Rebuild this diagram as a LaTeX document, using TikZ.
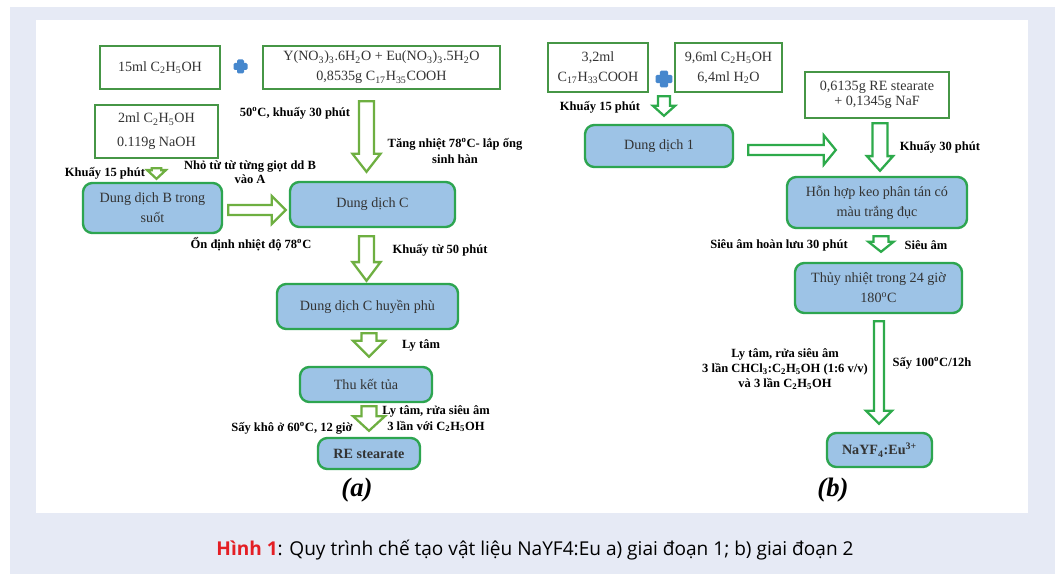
\documentclass[tikz,border=0pt]{standalone}
\usepackage{fontspec}
\setmainfont{Liberation Serif}
\newfontfamily\capfont{Open Sans}
\usetikzlibrary{calc}
\definecolor{boxgreen}{RGB}{70,150,70}
\definecolor{rndgreen}{RGB}{45,165,80}
\definecolor{boxblue}{RGB}{157,195,230}
\definecolor{arrgreenA}{RGB}{110,175,65}
\definecolor{arrgreenB}{RGB}{45,170,75}
\definecolor{plusblue}{RGB}{70,135,205}
\definecolor{pagebg}{RGB}{230,234,245}
\definecolor{capred}{RGB}{228,30,36}
\newcommand{\chsub}[1]{\textsubscript{#1}}
\newcommand{\chsup}[1]{\textsuperscript{#1}}

\begin{document}
\begin{tikzpicture}[
  x=0.75pt, y=-0.75pt,
  sz/.style 2 args={minimum width=#1*0.75pt, minimum height=#2*0.75pt},
  wbox/.style={draw=boxgreen, line width=1.8pt, fill=white, align=center,
    inner sep=1pt, text=black!80, font=\fontsize{10.6}{15}\selectfont},
  bbox/.style={wbox, draw=rndgreen, fill=boxblue, rounded corners=7pt},
  lbl/.style={font=\bfseries\fontsize{9.4}{11.5}\selectfont, align=center, inner sep=0pt},
  plusn/.style={inner sep=0pt, minimum size=#1, path picture={
    \fill[plusblue, rounded corners=1pt]
      ([yshift=-0.25*#1]path picture bounding box.west) rectangle
      ([yshift=0.25*#1]path picture bounding box.east);
    \fill[plusblue, rounded corners=1pt]
      ([xshift=-0.25*#1]path picture bounding box.south) rectangle
      ([xshift=0.25*#1]path picture bounding box.north);}},
  darr/.style n args={3}{fill=white, line width=1.7pt, to path={
    let \p1=(\tikztostart), \p2=(\tikztotarget) in
    (\x1-#1,\y1) -- (\x1+#1,\y1) -- (\x1+#1,\y2+#3) -- (\x1+#2,\y2+#3)
    -- (\x1,\y2) -- (\x1-#2,\y2+#3) -- (\x1-#1,\y2+#3) -- cycle}},
  rarr/.style n args={3}{fill=white, line width=1.7pt, to path={
    let \p1=(\tikztostart), \p2=(\tikztotarget) in
    (\x1,\y1+#1) -- (\x2-#3,\y1+#1) -- (\x2-#3,\y1+#2) -- (\x2,\y1)
    -- (\x2-#3,\y1-#2) -- (\x2-#3,\y1-#1) -- (\x1,\y1-#1) -- cycle}}
]
\useasboundingbox (0,0) rectangle (1058,574);
\fill[white] (0,0) rectangle (1058,574);
\fill[pagebg] (10,7) rectangle (1055,574);
\fill[white] (36,20) rectangle (1028,513);

% (a) giai doan 1
\node[wbox, sz={120}{43}] (ethA) at (160,67.5) {15ml C\chsub{2}H\chsub{5}OH};
\node[plusn=10.5pt] (plusA) at (240.5,66.5) {};
\node[wbox, sz={237}{43}] (ybox) at (381.5,67.5)
  {Y(NO\chsub{3})\chsub{3}.6H\chsub{2}O + Eu(NO\chsub{3})\chsub{3}.5H\chsub{2}O\\0,8535g C\chsub{17}H\chsub{35}COOH};
\node[wbox, sz={123}{53}] (naoh) at (156.5,131.5) {2ml C\chsub{2}H\chsub{5}OH\\[3pt]0.119g NaOH};
\node[bbox, sz={139}{50}] (dungB) at (152.5,208) {Dung dịch B trong\\suốt};
\node[bbox, sz={165}{45}] (dungC) at (372.5,204.5) {Dung dịch C};
\node[bbox, sz={181}{45}] (dungCh) at (367.5,306.5) {Dung dịch C huyền phù};
\node[bbox, sz={132}{35}] (thuKT) at (366,384.5) {Thu kết tủa};
\node[bbox, sz={102}{31}, font=\bfseries\fontsize{10.6}{15}\selectfont] (reSt) at (369,453.5) {RE stearate};

\draw[darr={3.6pt}{7pt}{6.5pt}, draw=arrgreenA] ($(naoh.south)+(0,9)$) to ($(dungB.north)+(0,-3)$);
\draw[rarr={3.8pt}{10.5pt}{10.5pt}, draw=arrgreenA] ($(dungB.east)+(5,2)$) to ($(dungC.west)+(-3,0)$);
\draw[darr={5.6pt}{10.5pt}{13.5pt}, draw=arrgreenA] ($(ybox.south -| dungC.north)+(-6,11)$) to ($(dungC.north)+(0,-9)$);
\draw[darr={5.6pt}{10.5pt}{14pt}, draw=arrgreenA] ($(dungC.south)+(-6,8)$) to ($(dungCh.north)+(0,-2)$);
\draw[darr={5.6pt}{12pt}{12pt}, draw=arrgreenA] ($(dungCh.south)+(1.5,3)$) to ($(thuKT.north)+(0,-9)$);
\draw[darr={5.6pt}{12pt}{11pt}, draw=arrgreenA] ($(thuKT.south)+(3,3)$) to ($(reSt.north)+(0,-6)$);

\node[lbl] (lStirA) at (105,173) {Khuấy 15 phút};
\node[lbl, font=\bfseries\fontsize{9.4}{10.5}\selectfont] (lDrop) at (250,172) {Nhỏ từ từ từng giọt dd B\\vào A};
\node[lbl] (lWarm) at (295,113) {50\chsup{o}C, khuấy 30 phút};
\node[lbl] (lHeat) at (455,151) {Tăng nhiệt 78\chsup{o}C- lắp ống\\sinh hàn};
\node[lbl] (lStab) at (251,244) {Ổn định nhiệt độ 78\chsup{o}C};
\node[lbl] (lStir50) at (440,250) {Khuấy từ 50 phút};
\node[lbl] (lCent) at (421,345) {Ly tâm};
\node[lbl] (lWashA) at (436,419) {Ly tâm, rửa siêu âm\\3 lần với C\chsub{2}H\chsub{5}OH};
\node[lbl] (lDryA) at (292,428) {Sấy khô ở 60\chsup{o}C, 12 giờ};
\node[font=\bfseries\itshape\fontsize{20}{22}\selectfont] (capA) at (357,490) {(a)};

% (b) giai doan 2
\node[wbox, sz={100}{49}] (oleic) at (598,67.5) {3,2ml\\C\chsub{17}H\chsub{33}COOH};
\node[plusn=12.5pt] (plusB) at (664,79) {};
\node[wbox, sz={107}{49}] (ethB) at (728.5,67.5) {9,6ml C\chsub{2}H\chsub{5}OH\\6,4ml H\chsub{2}O};
\node[wbox, sz={144}{46}, font=\fontsize{10.6}{11.5}\selectfont] (reNaF) at (877,95) {0,6135g RE stearate\\+ 0,1345g NaF};
\node[bbox, sz={148}{42}] (dd1) at (659,146) {Dung dịch 1};
\node[bbox, sz={180}{51}] (keo) at (877,202.5) {Hỗn hợp keo phân tán có\\màu trắng đục};
\node[bbox, sz={167}{50}] (thuy) at (878.5,288) {Thủy nhiệt trong 24 giờ\\180\chsup{o}C};
\node[bbox, sz={105}{34}, font=\bfseries\fontsize{10.6}{15}\selectfont] (nayf) at (879.5,450) {NaYF\chsub{4}:Eu\chsup{3+}};

\draw[darr={4.5pt}{8.3pt}{7.5pt}, draw=arrgreenB] ($(oleic.south -| plusB)+(0,3)$) to ($(dd1.north)+(0,-8)$);
\draw[rarr={3.8pt}{11pt}{9pt}, draw=arrgreenB] ($(dd1.east)+(14,4)$) to ($(keo.north west)+(50,-27)$);
\draw[darr={5.6pt}{9.8pt}{11pt}, draw=arrgreenB] ($(reNaF.south)+(3,4)$) to ($(keo.north)+(0,-5)$);
\draw[darr={5.6pt}{9.4pt}{7.5pt}, draw=arrgreenB] ($(keo.south)+(4,7)$) to ($(thuy.north)+(0,-10)$);
\draw[darr={3.8pt}{9.8pt}{9.8pt}, draw=arrgreenB] ($(thuy.south)+(0.5,7)$) to ($(nayf.north)+(0,-8)$);

\node[lbl] (lStirB) at (600,107) {Khuấy 15 phút};
\node[lbl] (lStir30) at (940,147) {Khuấy 30 phút};
\node[lbl] (lReflux) at (779,245) {Siêu âm hoàn lưu 30 phút};
\node[lbl] (lSonic) at (926,245) {Siêu âm};
\node[lbl] (lWashB) at (785,369) {Ly tâm, rửa siêu âm\\3 lần CHCl\chsub{3}:C\chsub{2}H\chsub{5}OH (1:6 v/v)\\và 3 lần C\chsub{2}H\chsub{5}OH};
\node[lbl] (lDryB) at (932,363) {Sấy 100\chsup{o}C/12h};
\node[font=\bfseries\itshape\fontsize{20}{22}\selectfont] (capB) at (833,490) {(b)};

\node[font=\capfont\fontsize{14.3}{16}\selectfont] (caption) at (535,550)
  {\textcolor{capred}{\bfseries Hình 1}: Quy trình chế tạo vật liệu NaYF4:Eu a) giai đoạn 1; b) giai đoạn 2};
\end{tikzpicture}
\end{document}
